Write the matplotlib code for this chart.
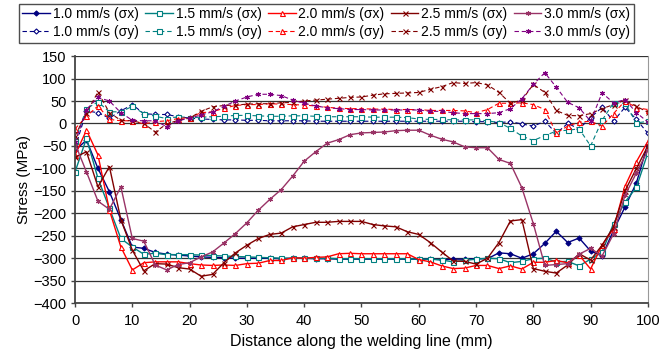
import matplotlib
matplotlib.use("Agg")
import matplotlib.pyplot as plt

# distance along the welding line (mm), one reading every 2 mm
distance = list(range(0, 101, 2))

# longitudinal stress sigma_x (MPa)
sx_10 = [-60, -37, -100, -152, -214, -275, -278, -287, -291, -293, -295, -297, -298, -299, -300, -300, -300,
         -300, -301, -300, -300, -301, -301, -302, -302, -302, -302, -302, -302, -302, -302, -302, -303, -302,
         -302, -301, -301, -288, -290, -300, -290, -267, -240, -265, -255, -284, -295, -238, -186, -132, -45]
sx_15 = [-108, -33, -122, -189, -256, -275, -291, -289, -292, -292, -292, -293, -294, -295, -296, -297, -298,
         -299, -300, -300, -300, -300, -300, -301, -301, -301, -301, -301, -301, -301, -302, -302, -304, -308,
         -305, -302, -300, -301, -310, -307, -301, -300, -308, -307, -317, -302, -286, -223, -175, -142, -65]
sx_20 = [-70, -15, -70, -193, -275, -326, -310, -308, -308, -308, -312, -315, -316, -315, -316, -312, -311,
         -305, -305, -299, -300, -298, -297, -290, -289, -290, -290, -290, -290, -290, -303, -308, -317, -323,
         -322, -316, -316, -323, -317, -324, -309, -309, -305, -310, -293, -324, -271, -234, -140, -85, -40]
sx_25 = [-75, -63, -141, -96, -214, -282, -328, -312, -313, -321, -324, -340, -336, -310, -288, -271, -256,
         -247, -244, -230, -225, -220, -220, -218, -218, -218, -225, -228, -230, -241, -247, -265, -286, -306,
         -307, -313, -300, -265, -217, -214, -323, -329, -333, -315, -290, -304, -271, -230, -150, -100, -50]
sx_30 = [-45, -108, -173, -191, -141, -256, -262, -315, -326, -314, -310, -297, -286, -266, -245, -221, -193,
         -169, -147, -117, -84, -63, -44, -36, -25, -21, -20, -19, -16, -15, -15, -26, -35, -41, -52, -54,
         -54, -80, -89, -143, -223, -316, -314, -312, -291, -278, -295, -246, -160, -110, -60]

# transverse stress sigma_y (MPa)
sy_10 = [-55, 28, 24, 12, 28, 42, 22, 20, 20, 15, 12, 10, 9, 8, 8, 7, 7, 6, 6, 6, 6, 5, 5, 5, 5, 5, 5, 5,
         5, 5, 5, 5, 5, 5, 5, 4, 4, 2, 4, -1, -6, 5, -22, 0, -12, 13, 36, 5, 36, 9, -22]
sy_15 = [-38, 33, 48, 26, 26, 38, 22, 16, 11, 15, 13, 14, 15, 16, 18, 18, 17, 16, 16, 17, 17, 16, 15, 15,
         15, 15, 14, 14, 14, 13, 10, 9, 9, 8, 8, 8, 6, 2, -11, -28, -38, -27, -17, -15, -12, -50, 7, 46, 45,
         1, 5]
sy_20 = [-12, 16, 39, 9, 6, 6, -1, 4, 6, 11, 13, 24, 26, 34, 40, 42, 42, 44, 43, 42, 41, 39, 36, 34, 33,
         33, 32, 32, 31, 31, 31, 29, 29, 29, 28, 24, 31, 45, 45, 46, 42, 31, -21, -6, 3, 5, -6, 22, 50, 35, 31]
sy_25 = [-28, 24, 70, 24, 7, 6, 0, -19, -1, 7, 12, 27, 37, 40, 41, 43, 44, 44, 46, 47, 50, 52, 54, 56, 58,
         59, 63, 66, 67, 68, 69, 76, 82, 91, 89, 91, 86, 69, 45, 52, 87, 69, 29, 18, 17, 22, 33, 42, 52, 38, 25]
sy_30 = [-42, 31, 58, 50, 24, 7, 6, 6, -7, 6, 12, 19, 26, 38, 50, 59, 65, 65, 62, 52, 45, 39, 35, 33, 31,
         31, 30, 30, 30, 30, 30, 27, 27, 24, 22, 22, 22, 24, 33, 55, 87, 113, 81, 47, 35, 5, 68, 46, 53, 24, 3]

speeds = ["1.0", "1.5", "2.0", "2.5", "3.0"]
sx_all = [sx_10, sx_15, sx_20, sx_25, sx_30]
sy_all = [sy_10, sy_15, sy_20, sy_25, sy_30]

asterisk = (6, 2, 0)
sx_style = [("#000080", "D", "#000080"), ("#008080", "s", "white"), ("#FF0000", "^", "white"),
            ("#800000", "x", "#800000"), ("#993366", asterisk, "#993366")]
sy_style = [("#000080", "D", "white"), ("#008080", "s", "white"), ("#FF0000", "^", "white"),
            ("#800000", "x", "#800000"), ("#800080", asterisk, "#800080")]

plt.rcParams["font.family"] = ["Liberation Sans", "DejaVu Sans"]
fig = plt.figure(figsize=(6.7, 3.55), dpi=100)
ax = fig.add_axes([0.112, 0.146, 0.855, 0.696])

handles = []
for i in range(5):
    c, m, fc = sx_style[i]
    ms = 2.6 if m == "D" else 3.6
    hx, = ax.plot(distance, sx_all[i], color=c, lw=1.0, marker=m, ms=ms, mfc=fc, mec=c, mew=0.8,
                  label=f"{speeds[i]} mm/s (\u03c3x)")
    c, m, fc = sy_style[i]
    hy, = ax.plot(distance, sy_all[i], color=c, lw=0.8, ls=(0, (4, 2.5)), marker=m, ms=ms, mfc=fc, mec=c,
                  mew=0.8, label=f"{speeds[i]} mm/s (\u03c3y)")
    handles += [hx, hy]

ax.set_xlim(0, 100)
ax.set_ylim(-400, 150)
ax.set_xticks(range(0, 101, 10))
ax.set_yticks(range(-400, 151, 50))
ax.yaxis.grid(True, color="#333333", lw=0.9)
ax.set_axisbelow(True)
ax.tick_params(labelsize=10.5, length=3, width=1, color="#444444")
ax.tick_params(axis="x", pad=5)
ax.tick_params(axis="y", pad=3)
for s in ["left", "bottom"]:
    ax.spines[s].set_color("#444444")
    ax.spines[s].set_linewidth(1.3)
ax.spines["top"].set_visible(False)
ax.spines["right"].set_color("#999999")
ax.set_xlabel("Distance along the welding line (mm)", fontsize=11.5, labelpad=4)
ax.set_ylabel("Stress (MPa)", fontsize=11, labelpad=2)

leg = fig.legend(handles=handles, ncol=5, loc="upper center", bbox_to_anchor=(0.487, 0.99), fontsize=10,
                 frameon=True, fancybox=False, edgecolor="#222222", handlelength=2.0, handletextpad=0.2,
                 columnspacing=0.45, labelspacing=0.3, borderpad=0.25, borderaxespad=0)
leg.get_frame().set_linewidth(1.0)

fig.savefig("out.png", dpi=100)
